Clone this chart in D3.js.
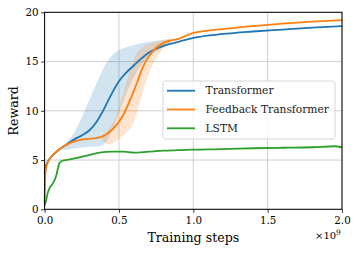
<!DOCTYPE html>
<html><head><meta charset="utf-8">
<script src="https://cdn.jsdelivr.net/npm/d3@7"></script>
<style>body{margin:0;background:#fff}svg{display:block}</style>
</head><body>
<svg id="c" width="358" height="253"></svg>
<script>
const seriesNames = ["Transformer", "Feedback Transformer", "LSTM"];
const colors = ["#1f77b4", "#ff7f0e", "#2ca02c"];
const xTicks = [0, 0.5, 1.0, 1.5, 2.0];
const yTicks = [0, 5, 10, 15, 20];

// [training steps (x1e9), reward]
const transformer = [[0,3.6],[0.005,4.2],[0.02,4.8],[0.05,5.4],[0.1,6.1],[0.15,6.6],[0.2,7.1],[0.25,7.5],[0.3,8.0],[0.35,8.9],[0.4,10.2],[0.45,11.7],[0.5,13.0],[0.55,13.9],[0.6,14.6],[0.65,15.3],[0.7,15.9],[0.75,16.3],[0.8,16.6],[0.9,17.0],[1.0,17.4],[1.2,17.8],[1.4,18.05],[1.6,18.25],[1.8,18.45],[2.0,18.6]];
const feedback = [[0,0.6],[0.005,3.6],[0.012,4.3],[0.03,5.0],[0.06,5.6],[0.1,6.1],[0.13,6.4],[0.19,6.85],[0.26,7.1],[0.33,7.2],[0.39,7.4],[0.44,7.9],[0.485,8.6],[0.53,9.6],[0.575,11.1],[0.62,12.8],[0.66,14.4],[0.7,15.5],[0.75,16.4],[0.8,16.9],[0.9,17.3],[1.0,17.9],[1.2,18.3],[1.4,18.6],[1.6,18.85],[1.8,19.05],[2.0,19.2]];
const lstm = [[0,0.4],[0.01,0.9],[0.02,1.6],[0.035,2.2],[0.05,2.5],[0.065,2.9],[0.08,3.5],[0.09,4.2],[0.1,4.7],[0.115,4.9],[0.17,5.07],[0.24,5.3],[0.3,5.5],[0.37,5.75],[0.45,5.85],[0.53,5.85],[0.6,5.75],[0.7,5.85],[0.8,5.95],[0.9,6.0],[1.0,6.05],[1.2,6.1],[1.4,6.2],[1.6,6.25],[1.8,6.3],[1.95,6.4],[2.0,6.3]];

// [x, low, high]
const transformerBand = [[0.12,6.0,6.3],[0.18,6.15,7.3],[0.22,6.2,8.3],[0.27,6.3,10.0],[0.32,6.35,11.8],[0.37,6.4,13.5],[0.4,6.5,14.5],[0.43,7.2,15.2],[0.47,8.5,15.9],[0.5,9.8,16.2],[0.55,11.8,16.45],[0.6,13.5,16.7],[0.65,14.7,16.85],[0.7,15.5,17.0],[0.78,16.3,17.15],[0.85,16.8,17.3]];
const feedbackBand = [[0.38,7.2,7.5],[0.42,6.5,7.8],[0.46,6.6,8.7],[0.5,7.2,10.2],[0.53,7.5,11.8],[0.57,8.0,14.0],[0.6,8.8,15.3],[0.63,10.2,16.1],[0.66,12.0,16.5],[0.7,13.8,16.8],[0.75,15.4,17.0],[0.8,16.4,17.2],[0.85,17.0,17.4]];

const lines = [transformer, feedback, lstm];
const bands = [transformerBand, feedbackBand];

const m = {l:44.6, r:342, t:12.3, b:209.3};
const x = d3.scaleLinear().domain([0,2]).range([m.l, m.r]);
const y = d3.scaleLinear().domain([0,20]).range([m.b, m.t]);
const svg = d3.select("#c");
const font = "DejaVu Serif";

// grid
const g = svg.append("g");
g.selectAll(".gx").data(xTicks).join("line")
  .attr("x1", d=>x(d)).attr("x2", d=>x(d)).attr("y1", m.t).attr("y2", m.b)
  .attr("stroke", "#cfcfcf").attr("stroke-width", 1);
g.selectAll(".gy").data(yTicks).join("line")
  .attr("y1", d=>y(d)).attr("y2", d=>y(d)).attr("x1", m.l).attr("x2", m.r)
  .attr("stroke", "#cfcfcf").attr("stroke-width", 1);

// bands
const area = d3.area().x(d=>x(d[0])).y0(d=>y(d[1])).y1(d=>y(d[2])).curve(d3.curveBasis);
bands.forEach((b,i)=>{
  svg.append("path").attr("d", area(b)).attr("fill", colors[i]).attr("fill-opacity", 0.2);
});

// lines
const line = d3.line().x(d=>x(d[0])).y(d=>y(d[1])).curve(d3.curveMonotoneX);
lines.forEach((l,i)=>{
  svg.append("path").attr("d", line(l)).attr("fill","none").attr("stroke", colors[i])
    .attr("stroke-width", 1.8).attr("stroke-linejoin","round");
});

// frame
svg.append("rect").attr("x", m.l).attr("y", m.t).attr("width", m.r-m.l).attr("height", m.b-m.t)
  .attr("fill","none").attr("stroke","#000").attr("stroke-width",1);

// axes
const xAxis = d3.axisBottom(x).tickValues(xTicks).tickFormat(d3.format(".1f")).tickSize(3.5).tickPadding(4);
const yAxis = d3.axisLeft(y).tickValues(yTicks).tickFormat(d3.format("d")).tickSize(3.5).tickPadding(2.5);
const gx = svg.append("g").attr("transform", `translate(0,${m.b})`).call(xAxis);
const gy = svg.append("g").attr("transform", `translate(${m.l},0)`).call(yAxis);
[gx, gy].forEach(a=>{
  a.select(".domain").remove();
  a.selectAll("line").attr("stroke","#000").attr("stroke-width",0.8);
  a.selectAll("text").attr("font-family", font).attr("font-size", 10.3).attr("fill","#000");
});

// axis labels
svg.append("text").attr("x", (m.l+m.r)/2).attr("y", 241.5).attr("text-anchor","middle")
  .attr("font-family", font).attr("font-size", 12.6).text("Training steps");
svg.append("text").attr("transform", `translate(17.5,${(m.t+m.b)/2}) rotate(-90)`).attr("text-anchor","middle")
  .attr("font-family", font).attr("font-size", 12.6).text("Reward");
const mult = svg.append("text").attr("x", 315).attr("y", 238.5).attr("font-family", font).attr("font-size", 10);
mult.append("tspan").text("×10");
mult.append("tspan").attr("dy", -4).attr("font-size", 7.5).text("9");

// legend
const lg = svg.append("g");
lg.append("rect").attr("x",163).attr("y",81).attr("width",172).attr("height",58).attr("rx",2.5)
  .attr("fill","#fff").attr("fill-opacity",0.8).attr("stroke","#cccccc").attr("stroke-width",0.8);
seriesNames.forEach((n,i)=>{
  const yy = 90.7 + i*18.8;
  lg.append("line").attr("x1",167).attr("x2",195).attr("y1",yy).attr("y2",yy)
    .attr("stroke", colors[i]).attr("stroke-width",1.8);
  lg.append("text").attr("x",205.5).attr("y",yy).attr("dy","0.35em")
    .attr("font-family", font).attr("font-size",10.7).attr("fill","#222").text(n);
});
</script>
</body></html>
